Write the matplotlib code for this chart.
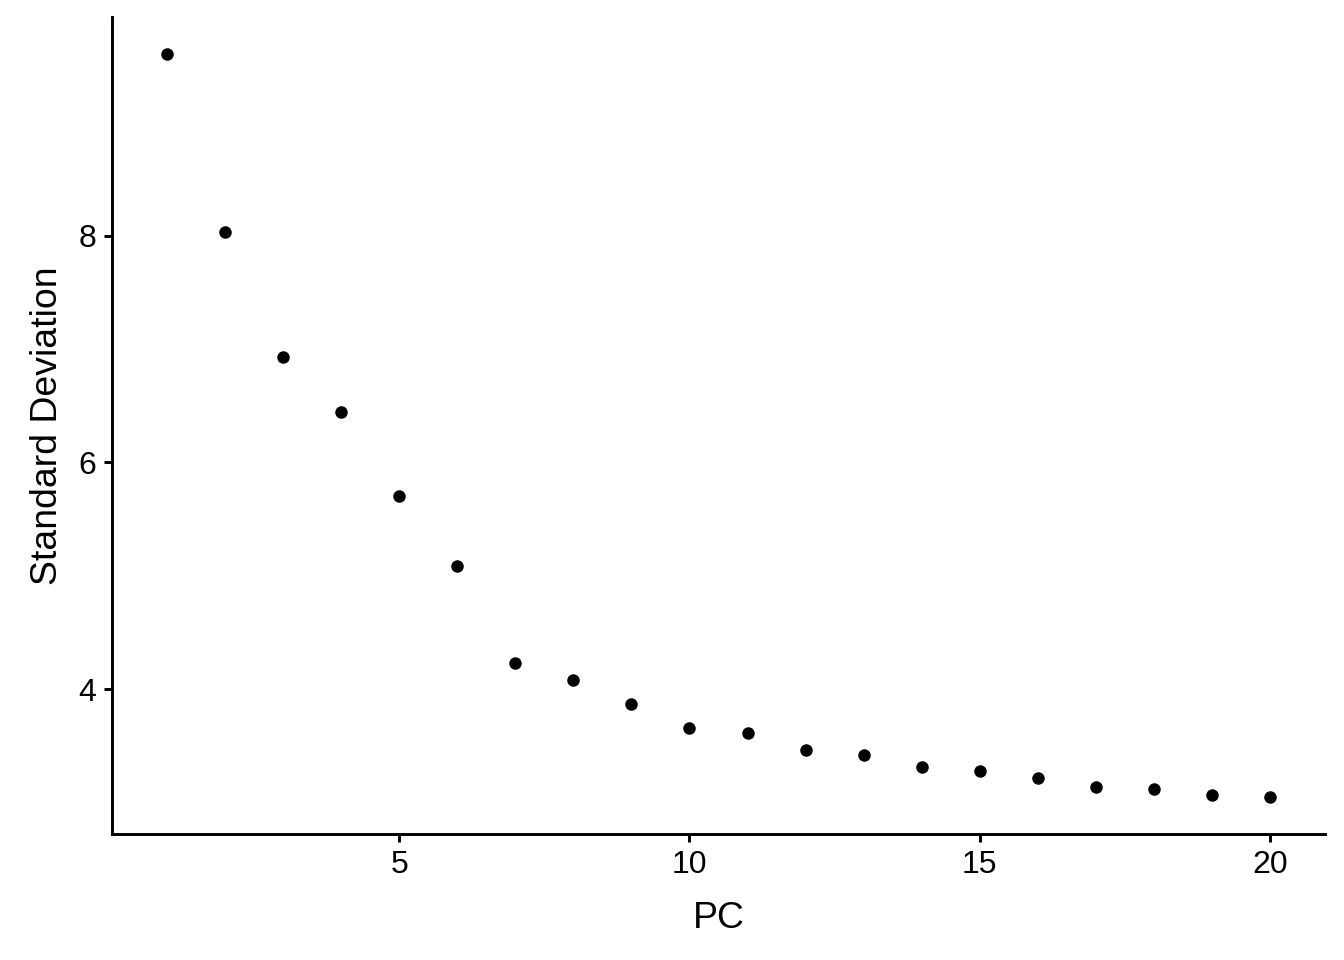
import matplotlib.pyplot as plt
import numpy as np

plt.rcParams['font.family'] = ['Liberation Sans', 'DejaVu Sans']

pcs = np.arange(1, 21)
stdev = [9.60, 8.03, 6.93, 6.44, 5.70, 5.09, 4.23, 4.08, 3.87, 3.66,
         3.61, 3.46, 3.42, 3.31, 3.28, 3.22, 3.14, 3.12, 3.07, 3.05]
xticks = [5, 10, 15, 20]
yticks = [4, 6, 8]

fig = plt.figure(figsize=(7, 5), dpi=192)
ax = fig.add_axes([112/1344, 126/960, (1325-112)/1344, (834-17)/960])

ax.scatter(pcs, stdev, s=22, color='black', linewidths=0, zorder=3)

xr = max(pcs) - min(pcs)
ax.set_xlim(min(pcs) - 0.05*xr, max(pcs) + 0.05*xr)
yr = max(stdev) - min(stdev)
ax.set_ylim(min(stdev) - 0.05*yr, max(stdev) + 0.05*yr)

ax.set_xticks(xticks)
ax.set_yticks(yticks)
ax.tick_params(labelsize=12, width=1.1, length=3, pad=3, colors='black')

for s in ['top', 'right']:
    ax.spines[s].set_visible(False)
for s in ['left', 'bottom']:
    ax.spines[s].set_linewidth(1.1)

ax.set_xlabel('PC', fontsize=14, labelpad=8)
ax.set_ylabel('Standard Deviation', fontsize=14, labelpad=5)

fig.savefig('out.png', dpi=192)
